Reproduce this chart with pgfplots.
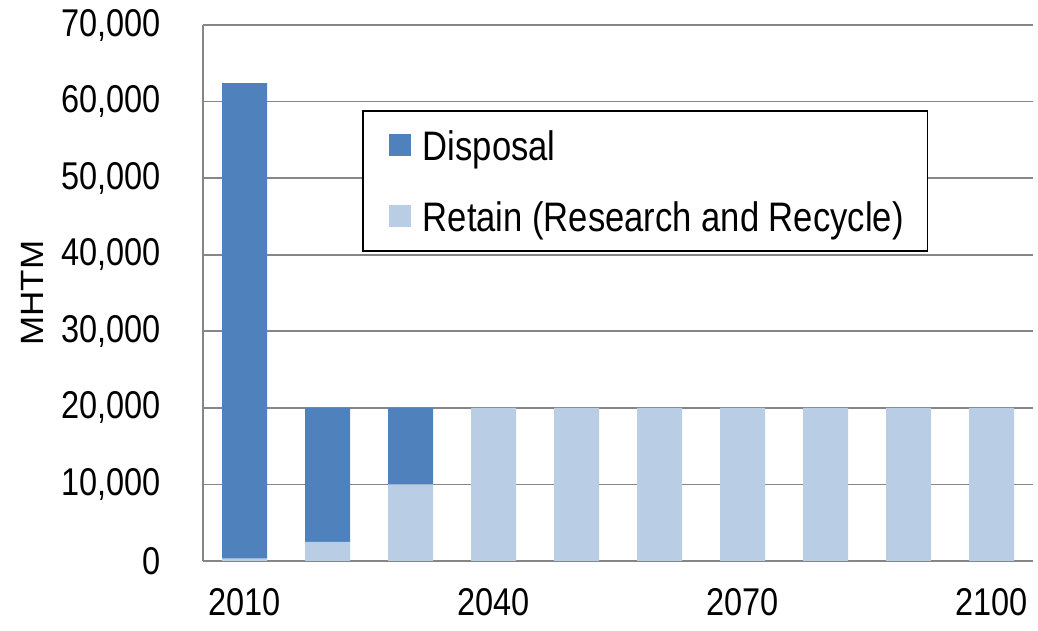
\documentclass[border=0pt]{standalone}
\usepackage{fontspec}
\setmainfont{Liberation Sans}[FakeStretch=0.84]
\newfontfamily\plainfont{Liberation Sans}
\usepackage{graphicx}
\usepackage{pgfplots}
\pgfplotsset{compat=1.18}
\definecolor{disp}{HTML}{4F81BD}
\definecolor{ret}{HTML}{B9CDE5}
\definecolor{axgray}{HTML}{868686}
\begin{document}
\begin{tikzpicture}[font=\fontsize{38.7}{46}\selectfont]
\path[use as bounding box] (0,0) rectangle (1038pt,631pt);
\begin{axis}[
  at={(203pt,70pt)}, anchor=south west,
  scale only axis, width=830pt, height=536pt,
  ybar stacked, bar width=45pt,
  xmin=-0.5, xmax=9.5, ymin=0, ymax=70000,
  axis x line*=bottom, axis y line*=left,
  axis line style={axgray, line width=2pt, -},
  xtick={0,3,6,9}, xticklabels={2010,2040,2070,2100},
  major x tick style={draw=none},
  xticklabel style={anchor=north, inner sep=0pt, yshift=-27pt},
  extra x ticks={0.5,1.5,...,8.5}, extra x tick labels={},
  extra x tick style={major tick style={axgray,line width=2pt,draw=axgray}, major tick length=12pt, tick align=inside, grid=none},
  ytick={0,10000,...,70000},
  ymajorgrids, grid style={axgray, line width=1.6pt},
  major y tick style={draw=none},
  scaled y ticks=false,
  yticklabel style={/pgf/number format/.cd, 1000 sep={,}, assume math mode=true, /tikz/.cd, anchor=east, inner sep=0pt, xshift=-42pt},
  ylabel={\plainfont\fontsize{35}{42}\selectfont\scalebox{1}[0.92]{MHTM}},
  ylabel style={at={(axis description cs:-0.205,0.5)}, anchor=center, inner sep=0pt},
  legend style={at={(axis description cs:0.1916,0.8414)}, anchor=north west, draw=black, line width=1.5pt, fill=white,
    inner xsep=12pt, inner ysep=10pt, row sep=22pt,
    font=\fontsize{41.2}{48}\selectfont,
    nodes={inner xsep=12pt, inner ysep=0pt, text height=40pt, text depth=9pt}},
  legend image code/.code={\path (0pt,0pt); \fill[#1] (14pt,-11pt) rectangle (36pt,11pt);},
  legend cell align=left,
  reverse legend,
]
\addplot[fill=ret, draw=none] coordinates {(0,300) (1,2500) (2,10000) (3,20000) (4,20000) (5,20000) (6,20000) (7,20000) (8,20000) (9,20000)};
\addplot[fill=disp, draw=none] coordinates {(0,62100) (1,17500) (2,10000) (3,0) (4,0) (5,0) (6,0) (7,0) (8,0) (9,0)};
\legend{Retain (Research and Recycle), Disposal}
\end{axis}
\end{tikzpicture}
\end{document}
